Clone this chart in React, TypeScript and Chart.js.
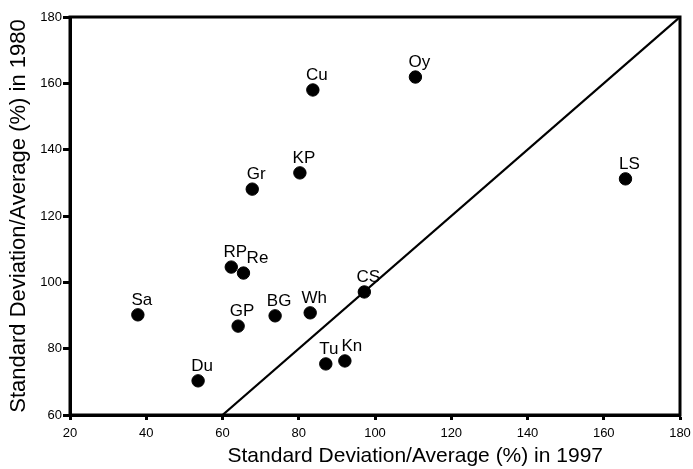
import React, { useEffect, useRef } from "react";
import { Chart, registerables } from "chart.js";

Chart.register(...registerables);

const siteLabels = ["Sa", "Du", "GP", "RP", "Re", "Gr", "BG", "Wh", "KP", "Cu", "Oy", "LS", "CS", "Tu", "Kn"];
const sd1997 = [37.8, 53.6, 64.1, 62.3, 65.5, 67.8, 73.8, 83.0, 80.3, 83.7, 110.6, 165.7, 97.2, 87.1, 92.1];
const sd1980 = [90.2, 70.3, 86.8, 104.6, 102.8, 128.1, 89.9, 90.8, 133.0, 158.0, 161.9, 131.2, 97.1, 75.4, 76.3];
const diagonal = [60, 180];
const xTicks = [20, 40, 60, 80, 100, 120, 140, 160, 180];
const yTicks = [60, 80, 100, 120, 140, 160, 180];
const xTitle = "Standard Deviation/Average (%) in 1997";
const yTitle = "Standard Deviation/Average (%) in 1980";

const FONT = "'Liberation Sans', Arial, Helvetica, sans-serif";
const labelDx: Record<string, number> = { Re: 14, Tu: 3, Kn: 7 };

export default function App() {
  const ref = useRef<HTMLCanvasElement | null>(null);

  useEffect(() => {
    document.body.style.margin = "0";
    const canvas = ref.current;
    if (!canvas) return;

    const framePlugin = {
      id: "frame",
      afterDraw(chart: any) {
        const { ctx, chartArea } = chart;
        ctx.save();
        ctx.strokeStyle = "#000";
        ctx.lineWidth = 3;
        ctx.strokeRect(chartArea.left, chartArea.top, chartArea.right - chartArea.left, chartArea.bottom - chartArea.top);
        ctx.fillStyle = "#000";
        ctx.font = `21px ${FONT}`;
        ctx.textAlign = "center";
        ctx.textBaseline = "alphabetic";
        ctx.fillText(xTitle, chartArea.left + (chartArea.right - chartArea.left) * 0.566, 462);
        ctx.restore();
      },
    };

    const labelPlugin = {
      id: "pointLabels",
      afterDatasetsDraw(chart: any) {
        const { ctx } = chart;
        const meta = chart.getDatasetMeta(1);
        ctx.save();
        ctx.fillStyle = "#000";
        ctx.font = `17px ${FONT}`;
        ctx.textAlign = "center";
        ctx.textBaseline = "alphabetic";
        meta.data.forEach((el: any, i: number) => {
          const name = siteLabels[i];
          const dx = labelDx[name] ?? 4;
          ctx.fillText(name, el.x + dx, el.y - 10);
        });
        ctx.restore();
      },
    };

    const chart = new Chart(canvas, {
      type: "scatter",
      data: {
        datasets: [
          {
            type: "line",
            data: diagonal.map((v) => ({ x: v, y: v })),
            borderColor: "#000",
            borderWidth: 2.2,
            pointRadius: 0,
            fill: false,
          } as any,
          {
            data: sd1997.map((x, i) => ({ x, y: sd1980[i] })),
            backgroundColor: "#000",
            borderColor: "#000",
            pointRadius: 6.2,
            pointHoverRadius: 6.2,
          },
        ],
      },
      options: {
        animation: false,
        responsive: false,
        maintainAspectRatio: false,
        layout: { padding: { top: 17, right: 13, left: 0, bottom: 0 } },
        plugins: { legend: { display: false }, tooltip: { enabled: false } },
        scales: {
          x: {
            type: "linear",
            min: 20,
            max: 180,
            afterBuildTicks: (s: any) => {
              s.ticks = xTicks.map((v) => ({ value: v }));
            },
            afterFit: (s: any) => {
              s.height = 54;
              s.paddingLeft = 0;
              s.paddingRight = 0;
            },
            border: { display: true, color: "#000", width: 3 },
            grid: { display: true, drawOnChartArea: false, drawTicks: true, tickLength: 5, tickWidth: 3, tickColor: "#000", color: "#000" },
            ticks: { color: "#000", font: { family: FONT, size: 13 }, padding: 6, maxRotation: 0 },
            title: { display: false, text: xTitle },
          },
          y: {
            type: "linear",
            min: 60,
            max: 180,
            afterBuildTicks: (s: any) => {
              s.ticks = yTicks.map((v) => ({ value: v }));
            },
            afterFit: (s: any) => {
              s.width = 70;
              s.paddingTop = 0;
              s.paddingBottom = 0;
            },
            border: { display: true, color: "#000", width: 3 },
            grid: { display: true, drawOnChartArea: false, drawTicks: true, tickLength: 7, tickWidth: 3, tickColor: "#000", color: "#000" },
            ticks: { color: "#000", font: { family: FONT, size: 13 }, padding: 1 },
            title: { display: true, text: yTitle, color: "#000", font: { family: FONT, size: 22 }, padding: { top: 6, bottom: 0 } },
          },
        },
      },
      plugins: [framePlugin, labelPlugin],
    });

    return () => chart.destroy();
  }, []);

  return (
    <div style={{ position: "absolute", left: 0, top: 0, width: 693, height: 469, background: "#fff" }}>
      <canvas ref={ref} width={693} height={469} style={{ width: 693, height: 469, display: "block" }} />
    </div>
  );
}
